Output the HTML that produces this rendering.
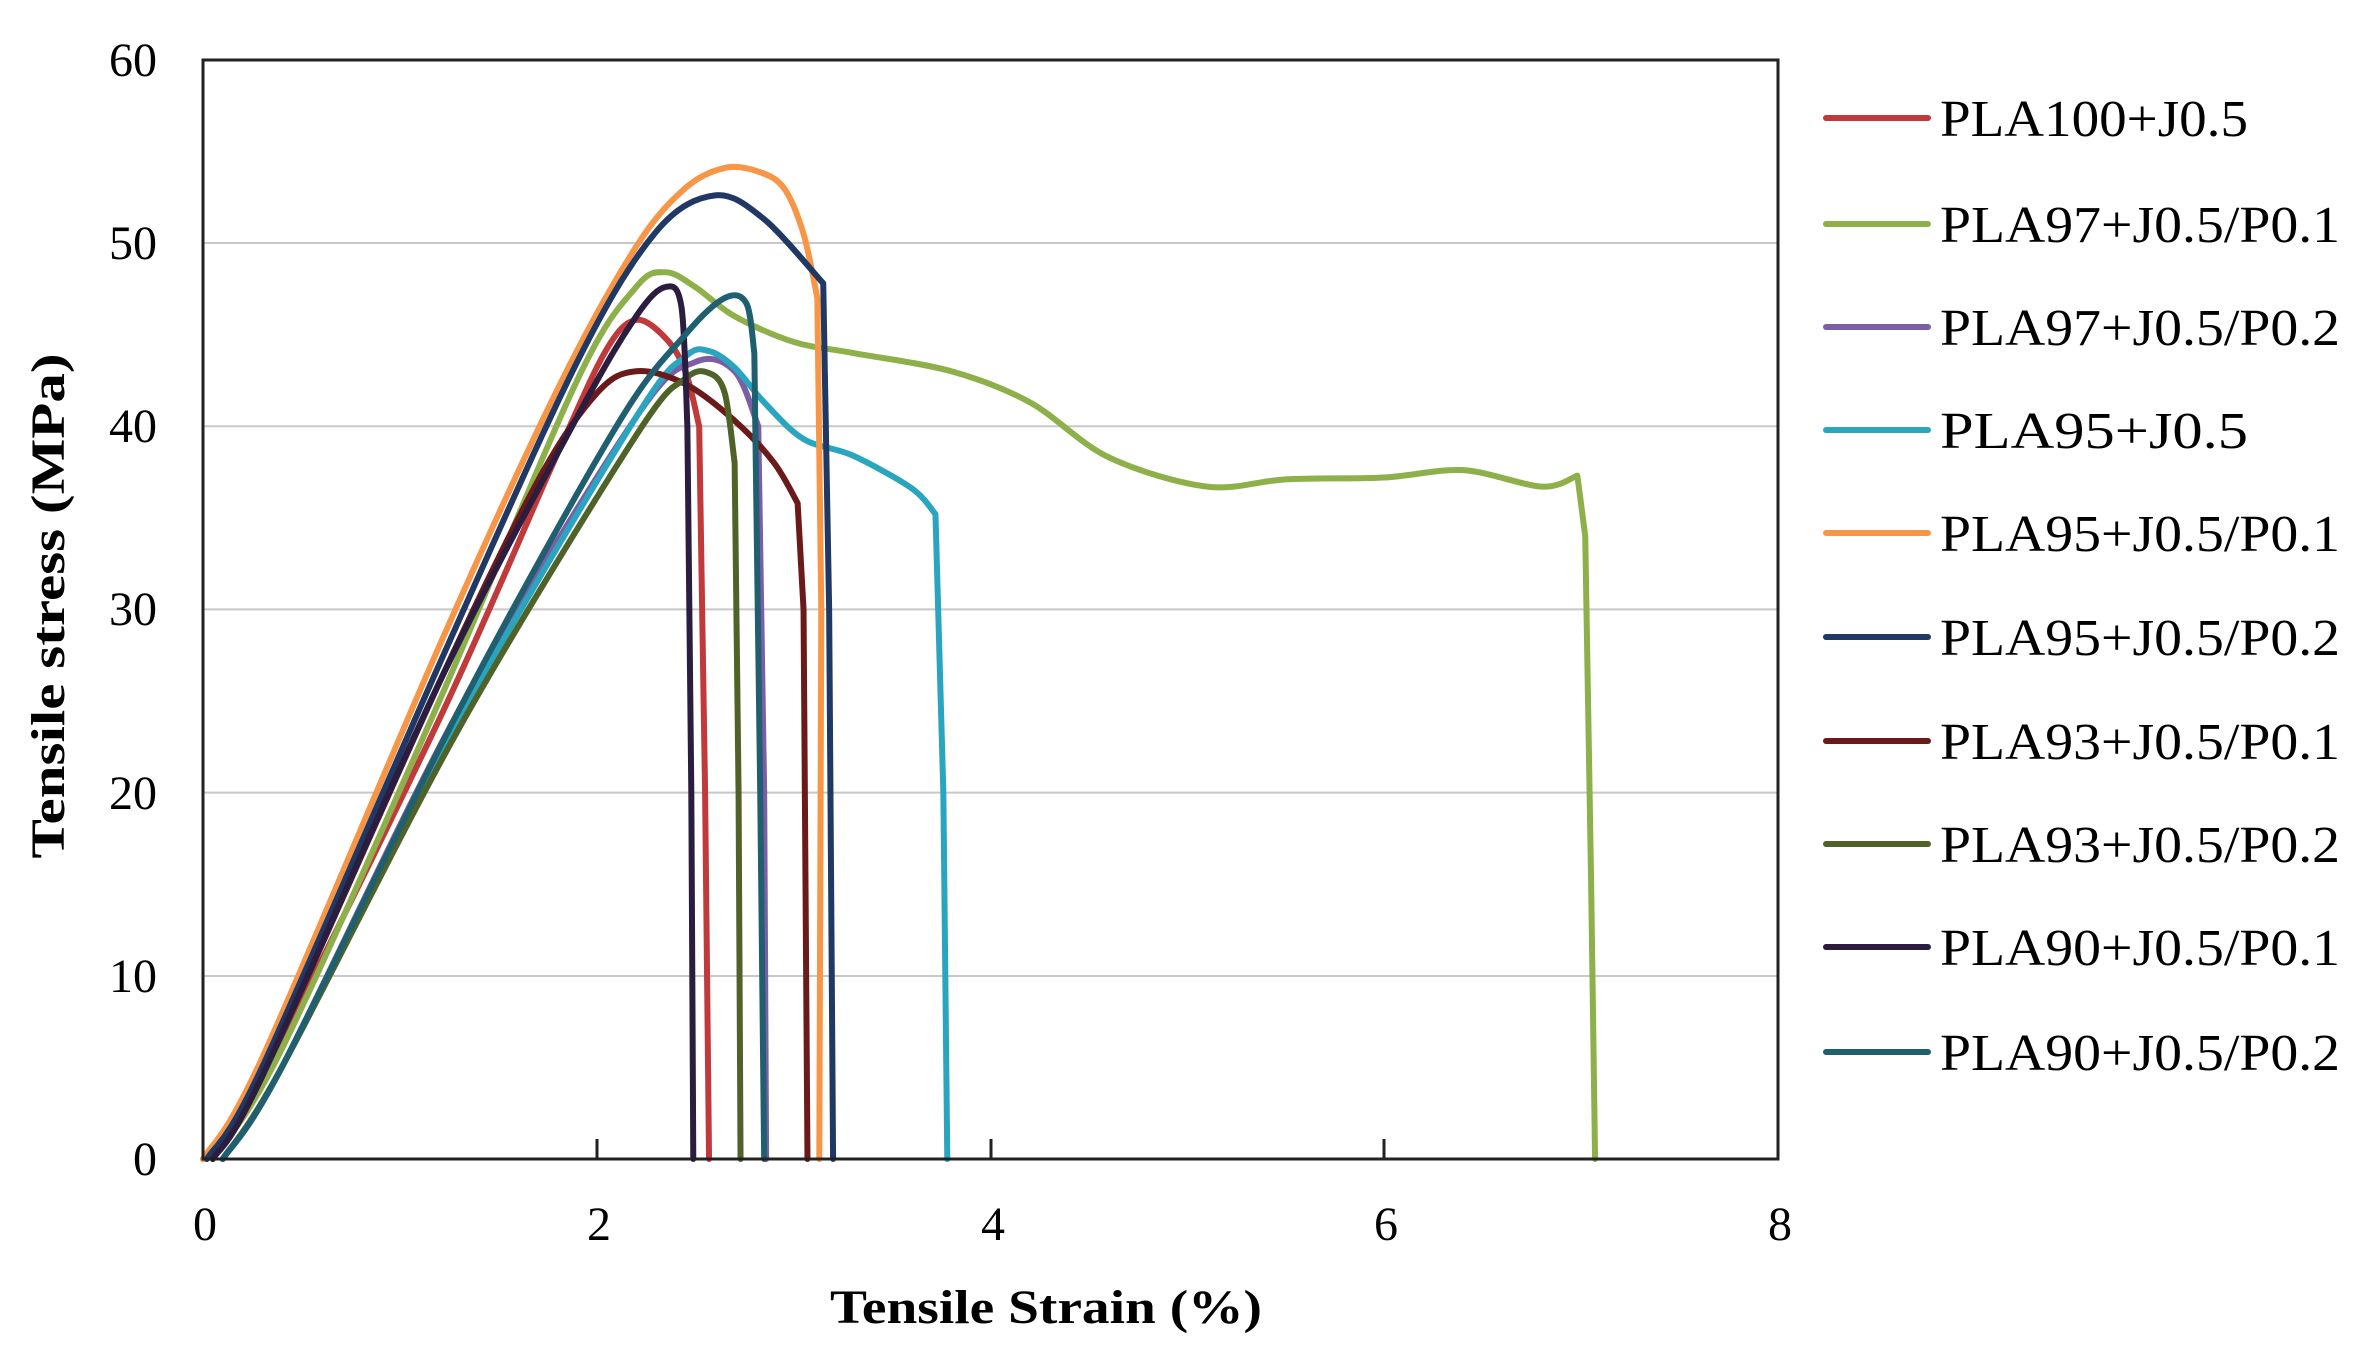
<!DOCTYPE html>
<html><head><meta charset="utf-8"><style>
html,body{margin:0;padding:0;background:#fff;}
svg{display:block;}
text{font-family:"Liberation Serif",serif;fill:#000;}
</style></head><body>
<svg id="s" width="2376" height="1370" viewBox="0 0 2376 1370" xmlns="http://www.w3.org/2000/svg">
<rect width="2376" height="1370" fill="#fff"/>
<g stroke="#c8c8c8" stroke-width="2">
<line x1="203" x2="1778" y1="976" y2="976"/>
<line x1="203" x2="1778" y1="792.6" y2="792.6"/>
<line x1="203" x2="1778" y1="609.4" y2="609.4"/>
<line x1="203" x2="1778" y1="426.2" y2="426.2"/>
<line x1="203" x2="1778" y1="243" y2="243"/>
</g>
<g id="curves" fill="none" stroke-width="6" stroke-linejoin="round" stroke-linecap="round"></g>
<rect x="203" y="60" width="1575" height="1099" fill="none" stroke="#222" stroke-width="3"/>
<g stroke="#222" stroke-width="3">
<line x1="597" x2="597" y1="1159" y2="1139"/>
<line x1="991" x2="991" y1="1159" y2="1139"/>
<line x1="1384" x2="1384" y1="1159" y2="1139"/>
</g>
<g font-size="48" text-anchor="end">
<text x="157" y="1175">0</text>
<text x="157" y="992">10</text>
<text x="157" y="809">20</text>
<text x="157" y="625">30</text>
<text x="157" y="442">40</text>
<text x="157" y="259">50</text>
<text x="157" y="76">60</text>
</g>
<g font-size="48" text-anchor="middle">
<text x="205" y="1240">0</text>
<text x="599" y="1240">2</text>
<text x="993" y="1240">4</text>
<text x="1386" y="1240">6</text>
<text x="1780" y="1240">8</text>
</g>
<text x="1046" y="1323" font-size="48" font-weight="bold" text-anchor="middle" textLength="432" lengthAdjust="spacingAndGlyphs">Tensile Strain (%)</text>
<text transform="translate(64,606) rotate(-90)" font-size="48" font-weight="bold" text-anchor="middle" textLength="505" lengthAdjust="spacingAndGlyphs">Tensile stress (MPa)</text>
<g id="legend"></g>
</svg>
<script>
var X=function(v){return 203+v*196.9}, Y=function(v){return 1159-v*18.32};
var S=[
["PLA100+J0.5","#c0393b",[[0,0],[0.3,4.5],[1.2,24],[1.8,38.5],[2.05,44.2],[2.2,45.8],[2.35,44.8],[2.45,43],[2.52,40],[2.55,20],[2.57,0]],2],
["PLA97+J0.5/P0.1","#8db04a",[[0.05,0],[0.4,6],[1.2,25],[1.9,42.5],[2.2,47.6],[2.35,48.4],[2.5,47.6],[2.7,46],[3.0,44.6],[3.3,44],[3.8,43],[4.2,41.3],[4.6,38.3],[5.1,36.7],[5.5,37.1],[6.0,37.2],[6.4,37.6],[6.8,36.7],[6.98,37.3],[7.02,34],[7.05,15],[7.07,0]],3],
["PLA97+J0.5/P0.2","#7b5fa5",[[0.1,0],[0.4,5],[1.3,24.5],[2.2,40.5],[2.5,43.5],[2.7,43],[2.82,40],[2.85,20],[2.86,0]],2],
["PLA95+J0.5","#2aa5c0",[[0.1,0],[0.4,5],[1.3,24],[2.2,40.5],[2.45,43.8],[2.57,44.1],[2.7,43.2],[2.85,41.3],[3.05,39.3],[3.3,38.4],[3.6,36.6],[3.72,35.2],[3.76,20],[3.78,0]],2],
["PLA95+J0.5/P0.1","#f79646",[[0,0],[0.3,5.5],[1.2,28],[1.8,42],[2.2,49.8],[2.45,53],[2.65,54.1],[2.82,53.9],[2.95,53],[3.05,50.5],[3.12,47],[3.14,30],[3.13,0]],2],
["PLA95+J0.5/P0.2","#1f3864",[[0.02,0],[0.3,5],[1.2,27],[1.9,43.5],[2.3,50.6],[2.6,52.6],[2.85,51.3],[3.15,47.8],[3.18,30],[3.2,0]],2],
["PLA93+J0.5/P0.1","#6b1a1a",[[0.05,0],[0.3,4.5],[1.2,26],[1.7,37],[2.0,41.8],[2.2,43],[2.45,42.3],[2.7,40.3],[2.9,38],[3.02,35.8],[3.05,30],[3.07,0]],2],
["PLA93+J0.5/P0.2","#4f6228",[[0.1,0],[0.4,5],[1.3,23.5],[2.2,39.5],[2.45,42.6],[2.57,42.9],[2.65,41.8],[2.7,38],[2.72,20],[2.73,0]],2],
["PLA90+J0.5/P0.1","#2b1d3f",[[0.05,0],[0.3,4.5],[1.2,26],[1.9,40.5],[2.2,46],[2.35,47.6],[2.43,46.5],[2.46,40],[2.48,20],[2.49,0]],2],
["PLA90+J0.5/P0.2","#1f5f6f",[[0.1,0],[0.4,5],[1.3,24.5],[2.1,40],[2.45,45],[2.65,47],[2.76,46.7],[2.8,44],[2.83,20],[2.85,0]],2]
];
var ns="http://www.w3.org/2000/svg",g=document.getElementById("curves"),lg=document.getElementById("legend");
var ly=[118,224,327,430,533,637,741,844,947,1052];
S.forEach(function(s,i){
 var p=s[2].map(function(q){return [X(q[0]),Y(q[1])]});
 var nl=s[3], last=p.length-1-nl;
 var d="M"+p[0][0]+","+p[0][1];
 for(var k=0;k<p.length-1;k++){
  var p1=p[k],p2=p[k+1];
  if(k>=last){d+=" L"+p2[0]+","+p2[1];continue;}
  var p0=p[k-1]||p[k],p3=(k+2<=last)?p[k+2]:p2,t=0.16;
  d+=" C"+(p1[0]+(p2[0]-p0[0])*t)+","+(p1[1]+(p2[1]-p0[1])*t)+" "+(p2[0]-(p3[0]-p1[0])*t)+","+(p2[1]-(p3[1]-p1[1])*t)+" "+p2[0]+","+p2[1];
 }
 var e=document.createElementNS(ns,"path");e.setAttribute("d",d);e.setAttribute("stroke",s[1]);g.appendChild(e);
 var l=document.createElementNS(ns,"line");l.setAttribute("x1",1826);l.setAttribute("x2",1928);l.setAttribute("y1",ly[i]);l.setAttribute("y2",ly[i]);
 l.setAttribute("stroke",s[1]);l.setAttribute("stroke-width",6);l.setAttribute("stroke-linecap","round");lg.appendChild(l);
 var t=document.createElementNS(ns,"text");t.setAttribute("x",1940);t.setAttribute("y",ly[i]+18);t.setAttribute("font-size","52");
 t.setAttribute("textLength", s[0].length>12?400:308);t.setAttribute("lengthAdjust","spacingAndGlyphs");
 t.textContent=s[0];lg.appendChild(t);
});
</script>
</body></html>
